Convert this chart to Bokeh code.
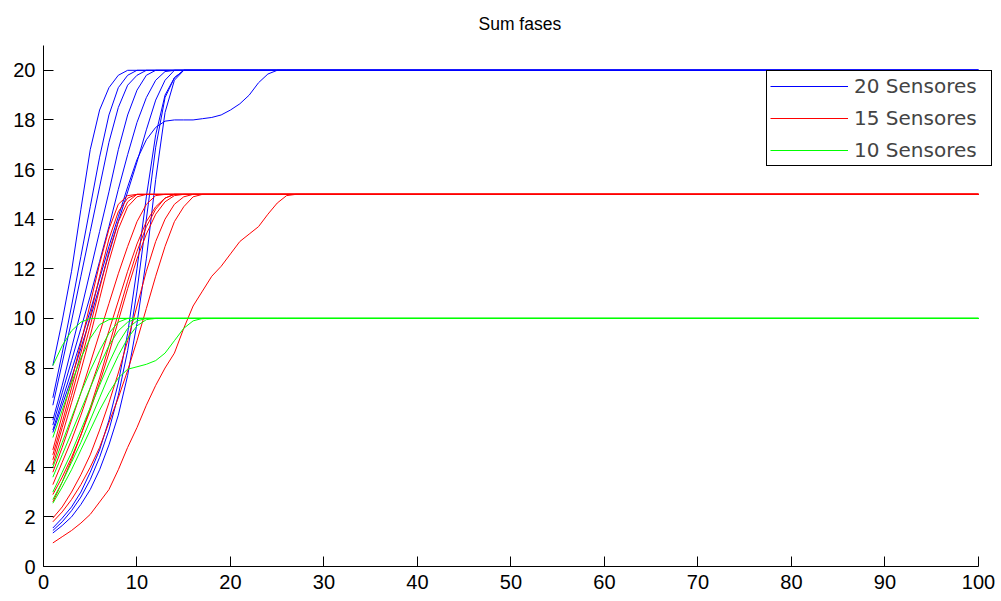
from bokeh.plotting import figure
from bokeh.models import Range1d, Legend, LegendItem, Title
from bokeh.embed import file_html
from bokeh.resources import INLINE

# time steps: 1..28, then the end of the run at 100
steps = list(range(1, 29)) + [100]

# 20 sensors
blue_curves = [
    [8.1, 9.9, 11.9, 14.4, 16.8, 18.4, 19.3, 19.8, 20.0],
    [6.8, 8.6, 10.5, 12.5, 14.5, 16.5, 18.2, 19.3, 19.8, 20.0],
    [6.5, 8.2, 9.9, 11.7, 13.5, 15.3, 17.1, 18.5, 19.4, 19.8, 20.0],
    [5.9, 7.3, 8.8, 10.3, 11.9, 13.5, 15.1, 16.8, 18.2, 19.2, 19.8, 20.0],
    [5.7, 7.0, 8.3, 9.6, 10.9, 12.3, 13.7, 15.2, 16.6, 17.9, 18.9, 19.6, 19.95, 20.0],
    [5.5, 6.7, 7.9, 9.1, 10.3, 11.6, 12.9, 14.1, 15.3, 16.4, 17.2, 17.7, 17.95, 18.0,
     18.0, 18.0, 18.05, 18.1, 18.2, 18.4, 18.65, 19.0, 19.5, 19.85, 20.0],
    [5.4, 6.5, 7.6, 8.8, 10.0, 11.3, 12.6, 13.9, 15.1, 16.3, 17.6, 18.8, 19.6, 20.0],
    [1.35, 1.65, 2.0, 2.5, 3.1, 3.9, 4.9, 6.1, 7.7, 9.8, 12.4, 15.6, 18.3, 19.6, 20.0],
    [1.45, 1.8, 2.25, 2.8, 3.5, 4.4, 5.5, 6.9, 8.7, 11.1, 14.0, 16.9, 18.9, 19.7, 20.0],
    [1.55, 1.95, 2.4, 3.0, 3.8, 4.7, 5.9, 7.4, 9.4, 12.0, 14.9, 17.4, 19.0, 19.7, 20.0],
]

# 15 sensors
red_curves = [
    [4.7, 6.1, 7.5, 9.0, 10.6, 12.2, 13.6, 14.6, 14.95, 15.0],
    [4.5, 5.8, 7.2, 8.6, 10.1, 11.7, 13.2, 14.3, 14.85, 15.0],
    [4.3, 5.6, 6.9, 8.3, 9.7, 11.2, 12.7, 13.9, 14.7, 15.0],
    [4.1, 5.3, 6.6, 7.9, 9.3, 10.8, 12.3, 13.6, 14.5, 14.9, 15.0],
    [3.8, 4.8, 5.9, 7.0, 8.2, 9.4, 10.6, 11.8, 12.9, 13.9, 14.6, 14.95, 15.0],
    [3.3, 4.2, 5.1, 6.1, 7.2, 8.3, 9.5, 10.7, 11.9, 13.0, 13.9, 14.5, 14.85, 15.0],
    [2.9, 3.6, 4.4, 5.3, 6.3, 7.4, 8.6, 9.9, 11.2, 12.4, 13.4, 14.2, 14.7, 14.95, 15.0],
    [2.6, 3.4, 4.3, 5.3, 6.4, 7.6, 8.9, 10.2, 11.5, 12.7, 13.7, 14.4, 14.85, 15.0],
    [1.95, 2.4, 3.0, 3.7, 4.5, 5.5, 6.6, 7.8, 9.1, 10.5, 11.9, 13.1, 14.0, 14.6, 14.9, 15.0],
    [1.8, 2.2, 2.7, 3.3, 4.0, 4.8, 5.8, 6.8, 7.9, 9.1, 10.4, 11.7, 12.9, 13.9, 14.5, 14.9, 15.0],
    [0.95, 1.2, 1.45, 1.75, 2.1, 2.6, 3.1, 3.9, 4.8, 5.6, 6.5, 7.3, 8.0, 8.6, 9.6, 10.5,
     11.1, 11.7, 12.1, 12.6, 13.1, 13.4, 13.7, 14.2, 14.65, 14.95, 15.0],
]

# 10 sensors
green_curves = [
    [8.1, 8.9, 9.5, 9.85, 10.0],
    [5.2, 6.3, 7.4, 8.4, 9.2, 9.75, 9.95, 10.0],
    [4.0, 5.0, 6.0, 7.0, 7.9, 8.7, 9.4, 9.85, 10.0],
    [3.6, 4.5, 5.4, 6.3, 7.2, 8.1, 8.9, 9.5, 9.85, 10.0],
    [3.0, 3.8, 4.6, 5.5, 6.4, 7.3, 8.2, 9.0, 9.6, 9.9, 10.0],
    [2.7, 3.4, 4.2, 5.0, 5.9, 6.8, 7.7, 8.5, 9.2, 9.7, 9.95, 10.0],
    [2.55, 3.2, 3.9, 4.7, 5.5, 6.3, 7.0, 7.6, 7.95, 8.05, 8.15, 8.3, 8.6, 9.1, 9.6, 9.9, 10.0],
]

series_labels = ["20 Sensores", "15 Sensores", "10 Sensores"]
series_colors = ["#0000ff", "#ff0000", "#00ff00"]
x_ticks = list(range(0, 101, 10))
y_ticks = list(range(0, 21, 2))


def full(ys):
    return ys + [ys[-1]] * (len(steps) - len(ys))


p = figure(width=1001, height=601, output_backend="svg", toolbar_location=None,
           x_range=Range1d(0, 101.5), y_range=Range1d(0, 21),
           min_border_left=43, min_border_right=9, min_border_top=45, min_border_bottom=35)
p.background_fill_color = "white"
p.border_fill_color = "white"
p.outline_line_color = None
p.xgrid.visible = False
p.ygrid.visible = False

p.title = Title(text="Sum fases", align="left", offset=435, standoff=20, vertical_align="top",
                text_font="Liberation Sans", text_font_size="17.5px", text_font_style="normal",
                text_color="#000000")

for ax, ticks in ((p.xaxis, x_ticks), (p.yaxis, y_ticks)):
    ax.ticker = ticks
    ax.major_tick_in = 10
    ax.major_tick_out = 0
    ax.minor_tick_line_color = None
    ax.axis_line_color = "black"
    ax.major_tick_line_color = "black"
    ax.major_label_text_font = "Liberation Sans"
    ax.major_label_text_font_size = "20px"
    ax.major_label_text_color = "black"
p.xaxis.bounds = (0, 100)
p.xaxis.major_label_standoff = 8
p.yaxis.major_label_standoff = 8

items = []
for label, color, curves in zip(series_labels, series_colors,
                                [blue_curves, red_curves, green_curves]):
    rs = []
    for ys in curves:
        r = p.line(steps, full(ys), line_color=color, line_width=1)
        rs.append(r)
    items.append(LegendItem(label=label, renderers=[rs[0]]))

legend = Legend(items=items, location=(723, 400), glyph_width=78, glyph_height=20,
                label_height=20, label_standoff=6, spacing=8, padding=3, margin=0,
                label_width=134, label_text_font="DejaVu Sans", label_text_font_size="20px",
                border_line_color="black", border_line_width=1, border_line_alpha=1,
                background_fill_color="white", background_fill_alpha=1)
p.add_layout(legend)

open("out.html", "w").write(file_html(p, INLINE))
